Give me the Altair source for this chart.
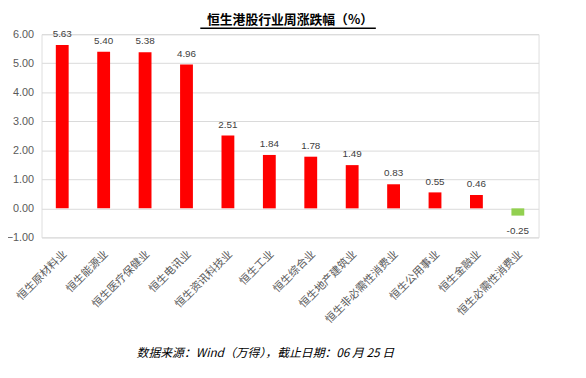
import altair as alt
import pandas as pd

categories = ["恒生原材料业", "恒生能源业", "恒生医疗保健业", "恒生电讯业", "恒生资讯科技业",
              "恒生工业", "恒生综合业", "恒生地产建筑业", "恒生非必需性消费业", "恒生公用事业",
              "恒生金融业", "恒生必需性消费业"]
values = [5.63, 5.40, 5.38, 4.96, 2.51, 1.84, 1.78, 1.49, 0.83, 0.55, 0.46, -0.25]
y_ticks = [-1, 0, 1, 2, 3, 4, 5, 6]

df = pd.DataFrame({"cat": categories, "val": values})
df["label"] = df["val"].map(lambda v: f"{v:.2f}")
df["pos"] = df["val"] >= 0

FONT = "Noto Sans CJK SC"

x = alt.X("cat:N", sort=categories, title=None,
          scale=alt.Scale(paddingInner=0.69, paddingOuter=0.345),
          axis=alt.Axis(labelAngle=-45, labelAlign="right", labelBaseline="middle",
                        labelFontSize=11, labelColor="#595959", labelFont=FONT,
                        domain=False, ticks=False, labelPadding=15, labelOffset=3,
                        labelOverlap=False))
y = alt.Y("val:Q", title=None,
          scale=alt.Scale(domain=[-1, 6], nice=False, zero=False),
          axis=alt.Axis(values=y_ticks, format=".2f", labelFontSize=11, labelColor="#595959",
                        labelFont="Liberation Sans", domain=False, ticks=False, labelPadding=8,
                        labelOverlap=False, gridColor="#d9d9d9", gridWidth=1))

base = alt.Chart(df)

bars = base.mark_bar().encode(
    x=x, y=y,
    color=alt.Color("pos:N", scale=alt.Scale(domain=[True, False], range=["#ff0000", "#92d050"]),
                    legend=None),
)

lab_pos = base.transform_filter("datum.val >= 0").mark_text(
    dy=-6, fontSize=10, color="#404040", font="Liberation Sans", baseline="bottom"
).encode(x=x, y=y, text="label:N")

lab_neg = base.transform_filter("datum.val < 0").mark_text(
    dy=11, fontSize=10, color="#404040", font="Liberation Sans", baseline="top"
).encode(x=x, y=y, text="label:N")

title = alt.Chart(pd.DataFrame({"t": ["恒生港股行业周涨跌幅（%）"]})).mark_text(
    fontSize=13, fontWeight="bold", font=FONT, color="#000000", align="center", baseline="middle"
).encode(x=alt.value(252), y=alt.value(-14), text="t:N")

underline = alt.Chart(pd.DataFrame({"a": [0]})).mark_rule(color="#000000", strokeWidth=1.5).encode(
    x=alt.value(161), x2=alt.value(339), y=alt.value(-6)
)

footer = alt.Chart(pd.DataFrame({"t": ["数据来源：Wind（万得），截止日期：06 月 25 日"]})).mark_text(
    fontSize=12, fontStyle="italic", font=FONT, color="#000000", align="center", baseline="middle"
).encode(x=alt.value(227), y=alt.value(323), text="t:N")

chart = alt.layer(bars, lab_pos, lab_neg, title, underline, footer).properties(
    width=504, height=206,
    autosize=alt.AutoSizeParams(type="none"),
    padding={"left": 34, "top": 24, "right": 40, "bottom": 140},
).configure_view(stroke=None).configure(background="white")

chart.save("out.html", embed_options={"renderer": "svg", "actions": False})
